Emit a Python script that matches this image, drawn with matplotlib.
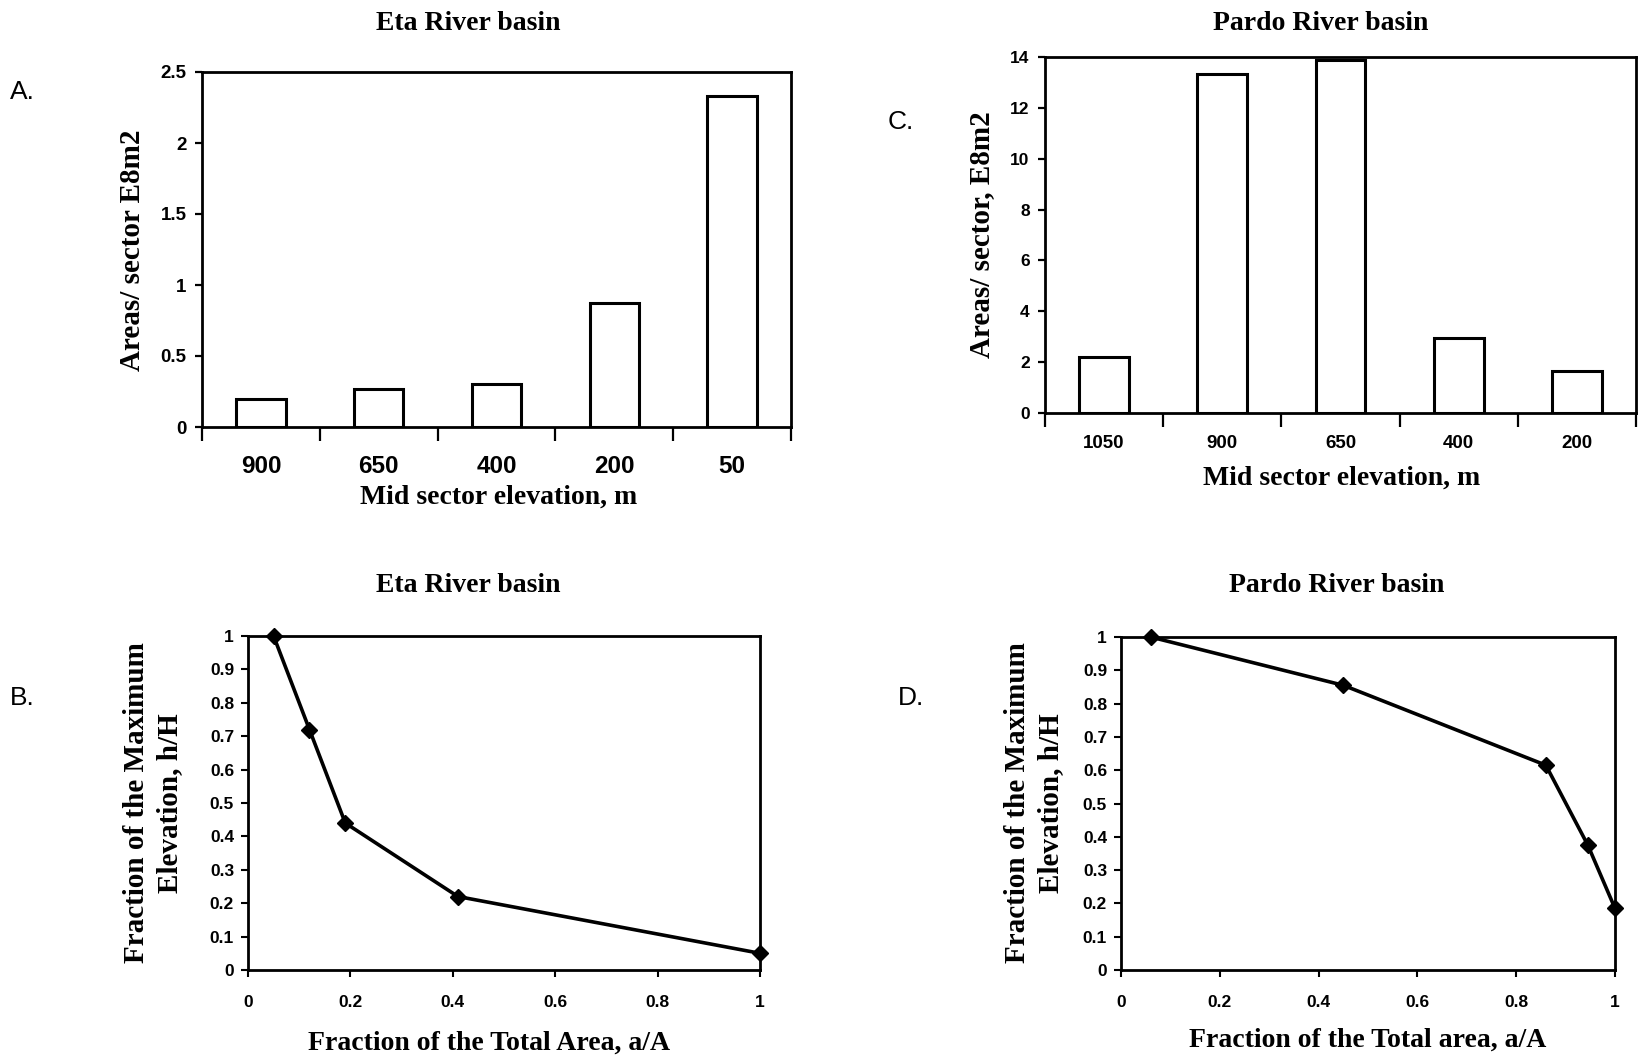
import matplotlib
matplotlib.use("Agg")
import matplotlib.pyplot as plt
from matplotlib.font_manager import fontManager
import numpy as np

# ---------------- data ----------------
eta_elev = ["900", "650", "400", "200", "50"]
eta_area = [0.20, 0.27, 0.30, 0.87, 2.33]

pardo_elev = ["1050", "900", "650", "400", "200"]
pardo_area = [2.2, 13.35, 13.9, 2.95, 1.65]

eta_frac_area = [0.05, 0.12, 0.19, 0.41, 1.0]
eta_frac_elev = [1.0, 0.72, 0.44, 0.22, 0.05]

pardo_frac_area = [0.06, 0.45, 0.86, 0.945, 1.0]
pardo_frac_elev = [1.0, 0.855, 0.615, 0.375, 0.185]

W, H = 1638, 1062
fig = plt.figure(figsize=(W / 100, H / 100), dpi=100)

names = {f.name for f in fontManager.ttflist}
narrow = ["Liberation Sans Narrow", "Liberation Sans"] if "Liberation Sans Narrow" in names else ["Liberation Sans"]
SERIF = ["Liberation Serif", "DejaVu Serif"]
SANS = ["Liberation Sans", "DejaVu Sans"]


def box(l, t, r, b):
    return [l / W, 1 - b / H, (r - l) / W, (b - t) / H]


def ftext(x, y, s, **kw):
    fig.text(x / W, 1 - y / H, s, **kw)


def style(ax, lw=2.0):
    for sp in ax.spines.values():
        sp.set_linewidth(lw)
        sp.set_color("black")


def bar_panel(rect, cats, vals, ymax, ystep, xsize, ysize, xpad):
    ax = fig.add_axes(rect)
    x = np.arange(len(cats))
    ax.bar(x, vals, width=0.42, facecolor="white", edgecolor="black", linewidth=2.2, zorder=3)
    ax.set_xlim(-0.5, len(cats) - 0.5)
    ax.set_ylim(0, ymax)
    ax.set_xticks(np.arange(len(cats) + 1) - 0.5)
    ax.set_xticklabels([])
    ax.set_xticks(x, minor=True)
    ax.set_xticklabels(cats, minor=True, fontsize=xsize, fontweight="bold", family=narrow)
    ax.tick_params(axis="x", which="major", direction="out", length=10, width=1.6)
    ax.tick_params(axis="x", which="minor", length=0, pad=xpad)
    yt = np.arange(0, ymax + ystep / 2, ystep)
    ax.set_yticks(yt)
    ax.set_yticklabels([f"{v:g}" for v in yt], fontsize=ysize, fontweight="bold", family=narrow)
    ax.tick_params(axis="y", direction="out", length=5, width=1.6, pad=6)
    style(ax)
    return ax


def line_panel(rect, xs, ys):
    ax = fig.add_axes(rect)
    ax.plot(xs, ys, color="black", linewidth=2.6, marker="D", markersize=8,
            markerfacecolor="black", markeredgecolor="black", clip_on=False, zorder=4)
    ax.set_xlim(0, 1)
    ax.set_ylim(0, 1)
    xt = [0, 0.2, 0.4, 0.6, 0.8, 1]
    ax.set_xticks(xt)
    ax.set_xticklabels([f"{v:g}" for v in xt], fontsize=12.5, fontweight="bold", family=narrow)
    yt = np.round(np.arange(0, 1.01, 0.1), 1)
    ax.set_yticks(yt)
    ax.set_yticklabels([f"{v:g}" for v in yt], fontsize=12.5, fontweight="bold", family=narrow)
    ax.tick_params(axis="x", direction="out", length=5, width=1.5, pad=13)
    ax.tick_params(axis="y", direction="out", length=5, width=1.5, pad=5)
    style(ax)
    return ax


TS = 20   # titles / x labels
YS = 21   # y labels
LS = 19   # panel letters

# Panel A
bar_panel(box(202, 72, 791, 427), eta_elev, eta_area, 2.5, 0.5, 17.5, 13.5, 20)
ftext(468, 23, "Eta River basin", ha="center", va="center", fontsize=TS, fontweight="bold", family=SERIF)
ftext(499, 497, "Mid sector elevation, m", ha="center", va="center", fontsize=TS, fontweight="bold", family=SERIF)
ftext(133, 250, "Areas/ sector E8m2", ha="center", va="center", rotation=90, fontsize=YS,
      fontweight="bold", family=SERIF)
ftext(10, 92, "A.", ha="left", va="center", fontsize=LS, family=SANS)

# Panel C
bar_panel(box(1045, 57, 1636, 413), pardo_elev, pardo_area, 14, 2, 13.5, 12.5, 16)
ftext(1321, 23, "Pardo River basin", ha="center", va="center", fontsize=TS, fontweight="bold", family=SERIF)
ftext(1342, 478, "Mid sector elevation, m", ha="center", va="center", fontsize=TS, fontweight="bold", family=SERIF)
ftext(982, 235, "Areas/ sector, E8m2", ha="center", va="center", rotation=90, fontsize=YS,
      fontweight="bold", family=SERIF)
ftext(888, 122, "C.", ha="left", va="center", fontsize=LS, family=SANS)

# Panel B
line_panel(box(248, 636, 760, 970), eta_frac_area, eta_frac_elev)
ftext(468, 586, "Eta River basin", ha="center", va="center", fontsize=TS, fontweight="bold", family=SERIF)
ftext(489, 1043, "Fraction of the Total Area, a/A", ha="center", va="center", fontsize=TS,
      fontweight="bold", family=SERIF)
ftext(153, 803, "Fraction of the Maximum\nElevation, h/H", ha="center", va="center", rotation=90,
      fontsize=YS, fontweight="bold", family=SERIF, linespacing=1.3)
ftext(10, 698, "B.", ha="left", va="center", fontsize=LS, family=SANS)

# Panel D
line_panel(box(1121, 637, 1615, 970), pardo_frac_area, pardo_frac_elev)
ftext(1337, 586, "Pardo River basin", ha="center", va="center", fontsize=TS, fontweight="bold", family=SERIF)
ftext(1368, 1040, "Fraction of the Total area, a/A", ha="center", va="center", fontsize=TS,
      fontweight="bold", family=SERIF)
ftext(1034, 803, "Fraction of the Maximum\nElevation, h/H", ha="center", va="center", rotation=90,
      fontsize=YS, fontweight="bold", family=SERIF, linespacing=1.3)
ftext(898, 698, "D.", ha="left", va="center", fontsize=LS, family=SANS)

fig.savefig("out.png", dpi=100, facecolor="white")
